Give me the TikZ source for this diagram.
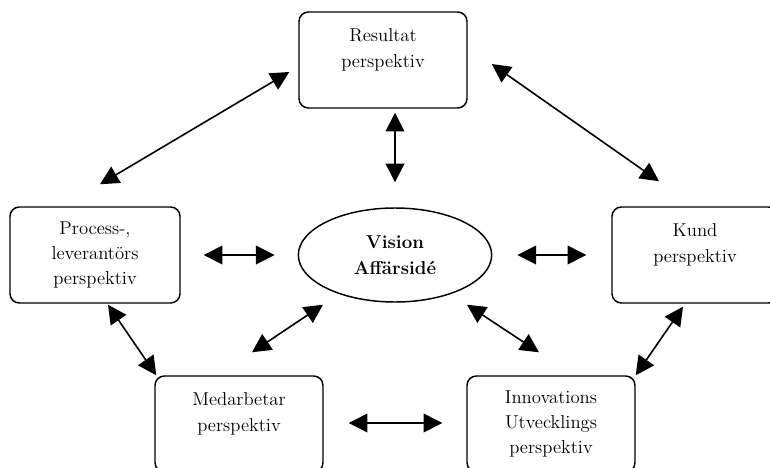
\documentclass[tikz,border=0pt]{standalone}
\usepackage{tikz}
\usetikzlibrary{shapes.geometric,arrows.meta}

\tikzset{
  ruta/.style={draw, rounded corners=7pt, line width=1.1pt, minimum width=126pt,
    minimum height=72pt, inner sep=0pt, align=center, font=\fontsize{14}{19}\selectfont},
  overst/.style={text depth=18pt},
  ellips/.style={draw, ellipse, line width=1.1pt, minimum width=145pt,
    minimum height=70.5pt, inner sep=0pt, align=center, font=\bfseries\fontsize{14}{19}\selectfont},
  pil/.style={{Triangle[length=14pt,width=14pt]}-{Triangle[length=14pt,width=14pt]}, line width=1.2pt}
}

\begin{document}
\begin{tikzpicture}[x=0.75pt,y=-0.75pt]
        \useasboundingbox (0,0) rectangle (770,467);
        \node[ruta, overst] (res) at (383,60) {Resultat\\perspektiv};
        \node[ruta, minimum width=127.5pt] (proc) at (95,255) {Process-,\\leverantörs\\perspektiv};
        \node[ruta, overst, minimum width=124.5pt] (kund) at (695,255) {Kund\\perspektiv};
        \node[ellips] (vis) at (395,255) {Vision\\Affärsidé};
        \node[ruta, overst] (med) at (239,424) {Medarbetar\\perspektiv};
        \node[ruta] (inn) at (551,424) {Innovations\\Utvecklings\\perspektiv};
        \draw[pil] ([shift={(-9,12)}]res.west) -- ([shift={(5,-22)}]proc.north);
        \draw[pil] ([shift={(24,4)}]res.east) -- ([shift={(-36,-25)}]kund.north);
        \draw[pil] ([shift={(12,4)}]res.south) -- ([shift={(0,-25)}]vis.north);
        \draw[pil] ([shift={(23,0)}]proc.east) -- ([shift={(-23,0)}]vis.west);
        \draw[pil] ([shift={(25,0)}]vis.east) -- ([shift={(-25,0)}]kund.west);
        \draw[pil] ([shift={(13,1)}]proc.south) -- ([shift={(2,0)}]med.north west);
        \draw[pil] ([shift={(13,-23)}]med.north) -- ([shift={(-72,2)}]vis.south);
        \draw[pil] ([shift={(72,2)}]vis.south) -- ([shift={(-12,-23)}]inn.north);
        \draw[pil] ([shift={(-12,3)}]kund.south) -- (inn.north east);
        \draw[pil] ([shift={(25,-1)}]med.east) -- ([shift={(-24,-1)}]inn.west);
    \end{tikzpicture}
\end{document}
